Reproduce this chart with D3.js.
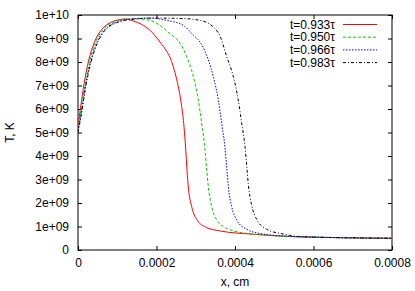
<!DOCTYPE html>
<html>
<head>
<meta charset="utf-8">
<script src="https://cdn.jsdelivr.net/npm/d3@7"></script>
<style>
  html, body { margin: 0; padding: 0; background: #fff; }
  svg { display: block; font-family: "Liberation Sans", Arial, Helvetica, sans-serif; }
</style>
</head>
<body>
<svg id="chart" width="415" height="291"></svg>
<script>
// ---- data (x in cm, T in units of 1e9 K) ----
const seriesLabels = ["t=0.933\u03c4", "t=0.950\u03c4", "t=0.966\u03c4", "t=0.983\u03c4"];
const seriesColors = ["#ff0000", "#00cc00", "#0000ff", "#000000"];
const xTicks = [0, 0.0002, 0.0004, 0.0006, 0.0008];
const xTickLabels = ["0", "0.0002", "0.0004", "0.0006", "0.0008"];
const yTicks = [0, 1e9, 2e9, 3e9, 4e9, 5e9, 6e9, 7e9, 8e9, 9e9, 1e10];
const yTickLabels = ["0", "1e+09", "2e+09", "3e+09", "4e+09", "5e+09", "6e+09", "7e+09", "8e+09", "9e+09", "1e+10"];

const redX = [0,0.0000094,0.0000178,0.0000262,0.0000433,0.00006,0.0000764,0.0001,0.00012,0.00014,0.000162,0.0001834,0.0002089,0.000226,0.0002344,0.0002428,0.0002515,0.0002642,0.0002701,0.0002744,0.0002777,0.0002815,0.0002897,0.0003024,0.0003279,0.0003618,0.0004466,0.000566,0.0008];
const redT = [5.25,6.4,7.3,8.0,8.9,9.38,9.62,9.78,9.83,9.75,9.6,9.35,8.85,8.45,8.2,7.8,7.25,6.1,5.25,4.3,3.4,2.6,1.84,1.3,0.95,0.81,0.67,0.56,0.5];

const greenX = [0,0.0000094,0.0000178,0.0000262,0.0000433,0.00006,0.0000764,0.0001,0.00012,0.00015,0.0001834,0.0002089,0.0002344,0.0002599,0.0002769,0.0002938,0.0003065,0.0003152,0.0003236,0.0003279,0.000332,0.0003406,0.0003534,0.0003789,0.0004298,0.000566,0.0008];
const greenT = [5.15,6.15,7.05,7.78,8.78,9.3,9.57,9.75,9.83,9.84,9.77,9.56,9.2,8.8,8.23,7.38,6.38,5.39,4.26,3.4,2.7,1.84,1.28,0.92,0.71,0.56,0.5];

const blueX = [0,0.0000094,0.0000178,0.0000262,0.0000433,0.00006,0.0000764,0.0001,0.00013,0.00018,0.000226,0.0002683,0.0002938,0.0003108,0.000332,0.0003447,0.0003575,0.0003661,0.0003745,0.0003789,0.0003829,0.0003916,0.0004043,0.0004298,0.0004721,0.000566,0.0008];
const blueT = [5.08,5.95,6.85,7.6,8.62,9.2,9.5,9.7,9.82,9.87,9.77,9.56,9.14,8.85,8.09,7.38,6.38,5.39,4.35,3.5,2.7,1.84,1.28,0.88,0.68,0.56,0.5];

const blackX = [0,0.0000094,0.0000178,0.0000262,0.0000433,0.00006,0.0000764,0.0001,0.00013,0.0002,0.0002684,0.0003108,0.0003447,0.0003618,0.0003789,0.0003957,0.0004084,0.0004171,0.0004255,0.0004298,0.0004339,0.0004426,0.0004553,0.0004808,0.0005231,0.000566,0.0008];
const blackT = [5.0,5.85,6.75,7.5,8.55,9.15,9.47,9.68,9.8,9.87,9.85,9.77,9.49,9.1,8.23,7.38,6.38,5.39,4.4,3.6,2.8,1.9,1.3,0.88,0.68,0.57,0.5];

const seriesX = [redX, greenX, blueX, blackX];
const seriesT = [redT, greenT, blueT, blackT];
const seriesDash = [null, "3,2", "1.5,1.5", "3,2,1,2"];

// ---- layout ----
const svg = d3.select("#chart");
const margin = {left: 78, right: 23, top: 15, bottom: 41};
const W = 415, H = 291;
const x = d3.scaleLinear().domain([0, 0.0008]).range([margin.left, W - margin.right]);
const y = d3.scaleLinear().domain([0, 1e10]).range([H - margin.bottom, margin.top]);
const tickLen = 4;

svg.append("defs").append("clipPath").attr("id", "clip")
  .append("rect").attr("x", x(0)).attr("y", y(1e10))
  .attr("width", x(0.0008) - x(0)).attr("height", y(0) - y(1e10));

// axes (ticks inward, mirrored)
const fmtX = (d) => xTickLabels[xTicks.indexOf(d)];
const fmtY = (d) => yTickLabels[yTicks.indexOf(d)];

const axB = svg.append("g").attr("transform", `translate(0,${y(0)})`)
  .call(d3.axisBottom(x).tickValues(xTicks).tickFormat(fmtX).tickSizeInner(-tickLen).tickSizeOuter(0).tickPadding(8));
const axT = svg.append("g").attr("transform", `translate(0,${y(1e10)})`)
  .call(d3.axisTop(x).tickValues(xTicks).tickFormat("").tickSizeInner(-tickLen).tickSizeOuter(0));
const axL = svg.append("g").attr("transform", `translate(${x(0)},0)`)
  .call(d3.axisLeft(y).tickValues(yTicks).tickFormat(fmtY).tickSizeInner(-tickLen).tickSizeOuter(0).tickPadding(9));
const axR = svg.append("g").attr("transform", `translate(${x(0.0008)},0)`)
  .call(d3.axisRight(y).tickValues(yTicks).tickFormat("").tickSizeInner(-tickLen).tickSizeOuter(0));

[axB, axT, axL, axR].forEach(g => {
  g.select(".domain").remove();
  g.selectAll("line").attr("stroke", "#000").attr("stroke-width", 1);
  g.selectAll("text").attr("fill", "#000").style("font-size", "12px")
    .style("font-family", '"Liberation Sans", Arial, sans-serif');
});

// frame
svg.append("rect").attr("x", x(0)).attr("y", y(1e10))
  .attr("width", x(0.0008) - x(0)).attr("height", y(0) - y(1e10))
  .attr("fill", "none").attr("stroke", "#000").attr("stroke-width", 1);

// lines
const line = d3.line().x(d => x(d[0])).y(d => y(d[1] * 1e9)).curve(d3.curveMonotoneX);
const plot = svg.append("g").attr("clip-path", "url(#clip)");
seriesX.forEach((xs, i) => {
  const pts = xs.map((v, j) => [v, seriesT[i][j]]);
  plot.append("path").datum(pts).attr("d", line)
    .attr("fill", "none").attr("stroke", seriesColors[i]).attr("stroke-width", 1)
    .attr("stroke-dasharray", seriesDash[i]);
});

// legend
const legend = svg.append("g");
seriesLabels.forEach((lab, i) => {
  const yy = 24.5 + i * 12.7;
  legend.append("text").attr("x", 335).attr("y", yy).attr("dy", "0.35em")
    .attr("text-anchor", "end").style("font-size", "12px").attr("fill", "#000").text(lab);
  legend.append("line").attr("x1", 343).attr("x2", 377).attr("y1", yy).attr("y2", yy)
    .attr("stroke", seriesColors[i]).attr("stroke-width", 1)
    .attr("stroke-dasharray", seriesDash[i]);
});

// axis titles
svg.append("text").attr("x", (x(0) + x(0.0008)) / 2).attr("y", 282).attr("dy", "0.35em")
  .attr("text-anchor", "middle").style("font-size", "12px").text("x, cm");
svg.append("text").attr("transform", `translate(10,${(y(0) + y(1e10)) / 2}) rotate(-90)`)
  .attr("dy", "0.35em").attr("text-anchor", "middle").style("font-size", "12px").text("T, K");
</script>
</body>
</html>
